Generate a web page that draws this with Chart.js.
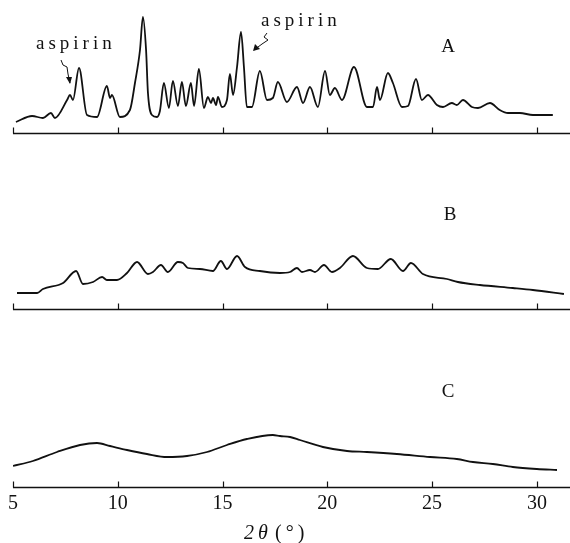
<!DOCTYPE html>
<html>
<head>
<meta charset="utf-8">
<script src="https://cdn.jsdelivr.net/npm/chart.js@4.4.0/dist/chart.umd.min.js"></script>
<style>
  html, body { margin: 0; padding: 0; background: #fff; }
</style>
</head>
<body>
<canvas id="xrd" width="570" height="543"></canvas>
<script>
// 2θ tick marks on every pattern baseline
const tickValues = [5, 10, 15, 20, 25, 30];

// Pattern A
const twoThetaA = [5.14, 5.91, 6.43, 6.81, 7.00, 7.58, 7.72, 7.86, 8.15, 8.53, 9.01, 9.48, 9.63, 9.72, 10.10,
  10.58, 10.82, 11.06, 11.20, 11.35, 11.44, 11.63, 11.87, 12.01, 12.20, 12.44, 12.63, 12.87, 13.06, 13.25,
  13.49, 13.64, 13.87, 14.11, 14.30, 14.45, 14.54, 14.69, 14.78, 14.97, 15.21, 15.35, 15.50, 15.69, 15.88,
  16.02, 16.16, 16.40, 16.78, 17.12, 17.40, 17.64, 18.07, 18.55, 18.84, 19.17, 19.55, 19.89, 20.12, 20.36,
  20.70, 21.27, 21.89, 22.18, 22.37, 22.51, 22.89, 23.13, 23.56, 23.85, 24.23, 24.51, 24.80, 25.23, 25.52,
  25.94, 26.18, 26.47, 26.90, 27.19, 27.76, 28.23, 28.62, 29.19, 29.81, 30.76];
const intensityA = [11, 17, 15, 20, 15, 33, 38, 33, 65, 18, 16, 47, 35, 38, 16,
  23, 50, 83, 116, 83, 40, 18, 16, 22, 50, 25, 52, 27, 51, 27,
  50, 27, 64, 25, 36, 30, 35, 28, 36, 26, 33, 59, 38, 66, 101,
  66, 26, 26, 62, 33, 35, 51, 31, 46, 30, 46, 26, 62, 38, 45,
  33, 66, 26, 26, 46, 33, 60, 50, 26, 27, 54, 33, 38, 28, 26,
  30, 28, 33, 26, 25, 30, 23, 20, 20, 18, 18];

// Pattern B
const twoThetaB = [5.19, 6.15, 6.43, 7.39, 8.01, 8.34, 8.82, 9.25, 9.48, 9.96, 10.44, 10.92, 11.44, 11.68, 12.06,
  12.39, 12.87, 13.11, 13.35, 13.92, 14.54, 14.92, 15.21, 15.69, 16.07, 16.78, 17.74, 18.22, 18.55, 18.79,
  19.17, 19.41, 19.84, 20.22, 20.60, 21.22, 21.89, 22.41, 23.03, 23.61, 23.99, 24.56, 25.71, 26.23, 27.28,
  28.85, 29.81, 31.29];
const intensityB = [16, 16, 20, 26, 38, 25, 27, 32, 29, 29, 36, 47, 35, 37, 44,
  37, 47, 46, 41, 40, 38, 48, 40, 53, 42, 38, 36, 37, 41, 37,
  39, 37, 44, 37, 41, 53, 41, 40, 50, 38, 46, 35, 30, 27, 24,
  21, 19, 15];

// Pattern C
const twoThetaC = [5.00, 5.95, 7.10, 8.20, 9.01, 9.63, 10.44, 11.39, 12.35, 13.30, 14.26, 15.21, 16.16, 17.40,
  17.74, 18.22, 18.69, 19.79, 20.94, 21.89, 23.32, 24.90, 26.18, 26.95, 27.90, 28.85, 30.00, 30.96];
const intensityC = [21, 26, 35, 42, 44, 41, 37, 33, 30, 31, 35, 42, 48, 52,
  51, 50, 47, 40, 36, 35, 33, 30, 28, 25, 23, 20, 18, 17];

const patternLabels = ['A', 'B', 'C'];
const patternOffsets = [354, 178, 0];

const toPoints = (xs, ys, offset) => xs.map((x, i) => ({ x: x, y: ys[i] + offset }));

const serif = '"Liberation Serif", "DejaVu Serif", serif';

// draws the three baselines, labels and the aspirin arrows
const decorations = {
  id: 'decorations',
  afterDatasetsDraw(chart) {
    const { ctx, scales: { x, y }, chartArea } = chart;
    ctx.save();
    ctx.strokeStyle = '#111';
    ctx.fillStyle = '#111';

    patternOffsets.forEach((offset, i) => {
      const py = Math.round(y.getPixelForValue(offset)) + 0.5;
      ctx.lineWidth = 1.5;
      ctx.beginPath();
      ctx.moveTo(x.getPixelForValue(5), py);
      ctx.lineTo(chartArea.right, py);
      ctx.stroke();
      ctx.lineWidth = 1.2;
      tickValues.forEach(v => {
        const px = Math.round(x.getPixelForValue(v)) + 0.5;
        ctx.beginPath();
        ctx.moveTo(px, py);
        ctx.lineTo(px, py - 6);
        ctx.stroke();
      });
    });

    // pattern letters
    ctx.font = '19px ' + serif;
    ctx.textAlign = 'center';
    ctx.textBaseline = 'middle';
    const letterPos = [[448, 47], [450, 215], [448, 392]];
    patternLabels.forEach((t, i) => ctx.fillText(t, letterPos[i][0], letterPos[i][1]));

    // aspirin annotations
    ctx.font = '19px ' + serif;
    ctx.letterSpacing = '4px';
    ctx.textAlign = 'left';
    ctx.textBaseline = 'alphabetic';
    ctx.fillText('aspirin', 36, 49);
    ctx.fillText('aspirin', 261, 26);
    ctx.letterSpacing = '0px';

    ctx.lineWidth = 1;
    // left wavy arrow
    ctx.beginPath();
    ctx.moveTo(61, 60);
    ctx.lineTo(63, 65);
    ctx.lineTo(67, 67);
    ctx.lineTo(68, 74);
    ctx.lineTo(70, 83);
    ctx.stroke();
    ctx.beginPath();
    ctx.moveTo(70, 84);
    ctx.lineTo(66, 77);
    ctx.lineTo(72, 77);
    ctx.closePath();
    ctx.fill();
    // right wavy arrow
    ctx.beginPath();
    ctx.moveTo(267, 33);
    ctx.lineTo(264, 37);
    ctx.lineTo(268, 40);
    ctx.lineTo(262, 44);
    ctx.lineTo(254, 50);
    ctx.stroke();
    ctx.beginPath();
    ctx.moveTo(253, 51);
    ctx.lineTo(255, 44);
    ctx.lineTo(260, 49);
    ctx.closePath();
    ctx.fill();

    // axis title
    ctx.textBaseline = 'alphabetic';
    ctx.font = 'italic 20px ' + serif;
    ctx.letterSpacing = '4px';
    ctx.fillText('2θ', 244, 539);
    ctx.font = '20px ' + serif;
    ctx.fillText('(°)', 275, 539);
    ctx.restore();
  }
};

new Chart(document.getElementById('xrd'), {
  type: 'line',
  data: {
    datasets: [
      { label: 'A', data: toPoints(twoThetaA, intensityA, patternOffsets[0]) },
      { label: 'B', data: toPoints(twoThetaB, intensityB, patternOffsets[1]) },
      { label: 'C', data: toPoints(twoThetaC, intensityC, patternOffsets[2]) }
    ].map(d => Object.assign(d, {
      borderColor: '#111',
      borderWidth: 1.8,
      pointRadius: 0,
      cubicInterpolationMode: 'monotone',
      fill: false
    }))
  },
  plugins: [decorations],
  options: {
    responsive: false,
    animation: false,
    // x axis height = label line + 2 * tick padding
    layout: { padding: { left: 13, right: 0, top: 0, bottom: 22 } },
    plugins: { legend: { display: false }, tooltip: { enabled: false } },
    scales: {
      x: {
        type: 'linear',
        min: 5,
        max: 31.58,
        afterBuildTicks: scale => { scale.ticks = tickValues.map(v => ({ value: v })); },
        grid: { display: false, drawTicks: false },
        border: { display: false },
        ticks: { color: '#111', padding: 5, maxRotation: 0, font: { family: serif, size: 20 } }
      },
      y: {
        display: false,
        min: 0,
        max: 487
      }
    }
  }
});
</script>
</body>
</html>
